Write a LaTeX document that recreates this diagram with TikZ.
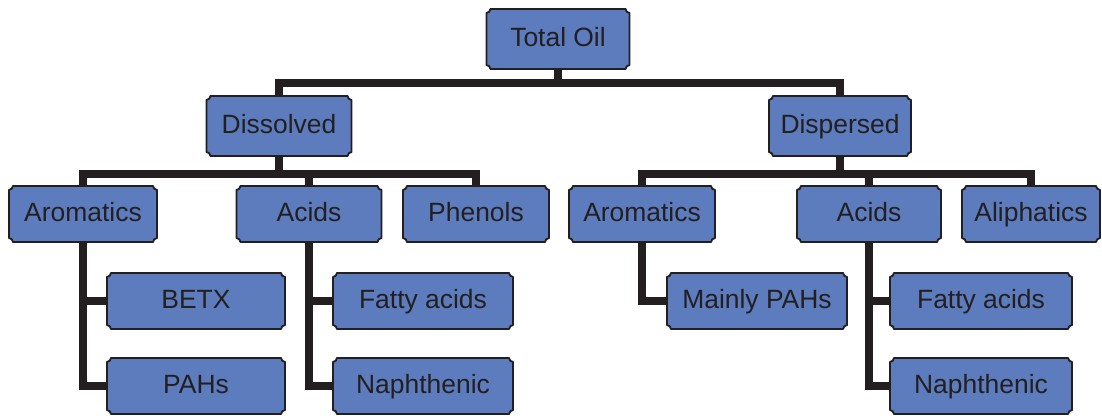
\documentclass[tikz,border=0pt]{standalone}
\usepackage{fontspec}
\setmainfont{Liberation Sans}
\usetikzlibrary{calc,positioning,backgrounds}
\definecolor{boxblue}{RGB}{92,124,190}
\definecolor{inkdark}{RGB}{35,31,32}
\newcommand{\boxcut}{2.8pt}
\newcommand{\oilframe}[1]{%
  \path[boxframe] ($(#1.south west)+(\boxcut,0)$) -- ($(#1.south east)+(-\boxcut,0)$)
    arc[start angle=180,end angle=90,radius=\boxcut] -- ($(#1.north east)+(0,-\boxcut)$)
    arc[start angle=270,end angle=180,radius=\boxcut] -- ($(#1.north west)+(\boxcut,0)$)
    arc[start angle=0,end angle=-90,radius=\boxcut] -- ($(#1.south west)+(0,\boxcut)$)
    arc[start angle=90,end angle=0,radius=\boxcut] -- cycle;}

\begin{document}
\begin{tikzpicture}[x=0.025cm,y=0.025cm]
\tikzset{
  oilbox/.style={rectangle,draw=none,inner sep=0pt,outer sep=0pt,minimum height=1.4cm,
    text height=15pt,text depth=3.7pt,text=inkdark,font=\fontsize{18.8}{21}\selectfont},
  topbox/.style={oilbox,minimum height=1.5cm},
  boxframe/.style={fill=boxblue,draw=inkdark,line width=1.3pt,line join=round},
  trunk/.style={draw=inkdark,line width=5.2pt,line join=miter}
}
\useasboundingbox (0,0) rectangle (1102,-415);
\node[topbox,minimum width=3.575cm] (n_total) at (558,-39) {Total Oil};
\node[topbox,minimum width=3.625cm] (n_dissolved) at (279,-126) {Dissolved};
\node[topbox,minimum width=3.55cm] (n_dispersed) at (840,-126) {Dispersed};
\node[oilbox,minimum width=3.7cm] (n_aroL) at (83,-214) {Aromatics};
\node[oilbox,minimum width=3.625cm] (n_acidL) at (309,-214) {Acids};
\node[oilbox,minimum width=3.65cm] (n_phenols) at (476,-214) {Phenols};
\node[oilbox,minimum width=3.65cm] (n_aroR) at (642,-214) {Aromatics};
\node[oilbox,minimum width=3.6cm] (n_acidR) at (869,-214) {Acids};
\node[oilbox,minimum width=3.45cm] (n_aliph) at (1031,-214) {Aliphatics};
\node[oilbox,minimum width=4.45cm] (n_betx) at (196,-301) {BETX};
\node[oilbox,minimum width=4.45cm] (n_pahs) at (196,-386) {PAHs};
\node[oilbox,minimum width=4.5cm] (n_fattyL) at (423,-301) {Fatty acids};
\node[oilbox,minimum width=4.5cm] (n_naphL) at (423,-386) {Naphthenic};
\node[oilbox,minimum width=4.5cm] (n_mainly) at (757,-301) {Mainly PAHs};
\node[oilbox,minimum width=4.55cm] (n_fattyR) at (981,-301) {Fatty acids};
\node[oilbox,minimum width=4.55cm] (n_naphR) at (981,-386) {Naphthenic};
\begin{scope}[on background layer]
\foreach \n in {n_total,n_dissolved,n_dispersed,n_aroL,n_acidL,n_phenols,n_aroR,n_acidR,n_aliph,n_betx,n_pahs,n_fattyL,n_naphL,n_mainly,n_fattyR,n_naphR}
  {\oilframe{\n}}
\end{scope}
\coordinate (busA) at (558,-83);
\coordinate (busB) at (279,-174);
\coordinate (busC) at (840,-174);
\draw[trunk] (n_total.south) -- (busA);
\draw[trunk] (n_dissolved.north) |- (busA) -| (n_dispersed.north);
\draw[trunk] (n_dissolved.south) -- (busB);
\draw[trunk] (n_aroL.north) |- (busB) -| (n_phenols.north);
\draw[trunk] (n_acidL.north) -- (n_acidL.north |- busB);
\draw[trunk] (n_dispersed.south) -- (busC);
\draw[trunk] (n_aroR.north) |- (busC) -| (n_aliph.north);
\draw[trunk] (n_acidR.north) -- (n_acidR.north |- busC);
\draw[trunk] (n_aroL.south) |- (n_pahs.west);
\draw[trunk] (n_aroL.south |- n_betx.west) -- (n_betx.west);
\draw[trunk] (n_acidL.south) |- (n_naphL.west);
\draw[trunk] (n_acidL.south |- n_fattyL.west) -- (n_fattyL.west);
\draw[trunk] (n_aroR.south) |- (n_mainly.west);
\draw[trunk] (n_acidR.south) |- (n_naphR.west);
\draw[trunk] (n_acidR.south |- n_fattyR.west) -- (n_fattyR.west);
\end{tikzpicture}
\end{document}
